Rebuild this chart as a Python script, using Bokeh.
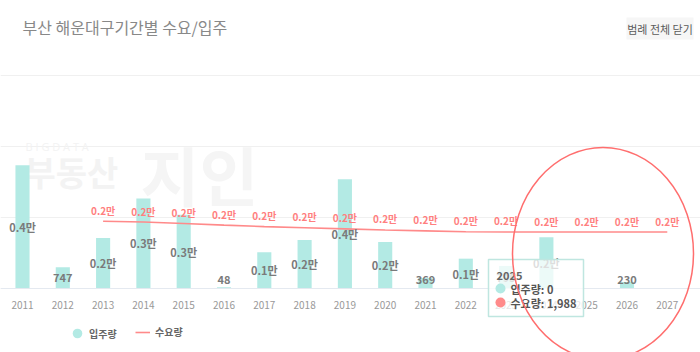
from bokeh.plotting import figure
from bokeh.models import Range1d, FixedTicker, Legend, LegendItem
from bokeh.core.properties import value
from bokeh.embed import file_html
from bokeh.resources import INLINE

# ---------------- data ----------------
years = list(range(2011, 2028))
supply = [4340, 747, 1780, 3170, 2600, 48, 1280, 1710, 3850, 1640, 369, 1050, 795, 1800, 0, 230, 0]
demand_years = list(range(2013, 2028))
demand = [2370, 2340, 2290, 2230, 2180, 2140, 2100, 2060, 2030, 2000, 1990, 1988, 1988, 1988, 1988]
grid_vals = [0, 2500, 5000, 7500]
title_text = "부산 해운대구기간별 수요/입주"
button_text = "범례 전체 닫기"
series_names = ["입주량", "수요량"]
hover_year = 2025

FONT = "Noto Sans CJK KR"
TEAL = "#b3eae4"
RED = "#ff8a8a"

W, H = 700, 352
X0, X1 = 2010.454, 2027.824
Y0, Y1 = -2254, 10141


def dx(px):
    return X0 + px * (X1 - X0) / W


def dy(py):
    return Y1 - py * (Y1 - Y0) / H


def fmt(v):
    return f"{v / 10000:.1f}만" if v >= 1000 else f"{v}"


p = figure(width=W, height=H, output_backend="svg", toolbar_location=None,
           x_range=Range1d(X0, X1), y_range=Range1d(Y0, Y1), min_border=0)
if p.title is not None:
    p.title.visible = False
p.outline_line_color = None
p.background_fill_color = "white"
p.border_fill_color = "white"
p.yaxis.visible = False
p.xgrid.visible = False
p.ygrid.ticker = FixedTicker(ticks=grid_vals)
p.ygrid.grid_line_color = "#f0f0f0"

xa = p.xaxis[0]
xa.fixed_location = 0
xa.ticker = FixedTicker(ticks=years)
xa.major_label_overrides = {y: str(y) for y in years}
xa.axis_line_color = "#e4e9f0"
xa.major_tick_line_color = None
xa.minor_tick_line_color = None
xa.major_label_standoff = 7
xa.major_label_text_font = FONT
xa.major_label_text_font_size = "10px"
xa.major_label_text_color = "#999999"

# watermark
p.text(x=[dx(25)], y=[dy(146)], text=["B  I  G  D  A  T  A"], text_font=value("Open Sans"),
       text_font_size="11px", text_color="#f3f3f3", text_baseline="middle")
p.text(x=[dx(24)], y=[dy(171)], text=["부동산"], text_font=value(FONT), text_font_size="34px",
       text_font_style="bold", text_color="#f3f3f3", text_baseline="middle")
p.text(x=[dx(140)], y=[dy(172)], text=["지인"], text_font=value(FONT), text_font_size="64px",
       text_font_style="bold", text_color="#f5f5f5", text_baseline="middle")

# title & button
p.text(x=[dx(22)], y=[dy(26)], text=[title_text], text_font=value(FONT), text_font_size="16px",
       text_color="#888888", text_baseline="middle")
p.quad(left=[dx(626)], right=[dx(693)], top=[dy(17)], bottom=[dy(39)], fill_color="#f6f6f6",
       line_color=None)
p.text(x=[dx(659.5)], y=[dy(28.5)], text=[button_text], text_font=value(FONT), text_font_size="11px",
       text_color="#5a5a5a", text_baseline="middle", text_align="center")

# bars
bars = p.vbar(x=years, top=supply, width=0.35, fill_color=TEAL, line_color=None)

# demand line
line = p.line(x=demand_years, y=demand, line_color=RED, line_width=1.6)

# bar labels
bx = [y for y, v in zip(years, supply) if v > 0]
by = [max(v / 2, 300) for v in supply if v > 0]
bt = [fmt(v) for v in supply if v > 0]
p.text(x=bx, y=by, text=bt, text_font=value(FONT), text_font_size="11px", text_font_style="bold",
       text_color="#7a7a7a", text_align="center", text_baseline="middle")

# demand labels
p.text(x=demand_years, y=demand, text=[fmt(v) for v in demand], y_offset=-11, text_font=value(FONT),
       text_font_size="10px", text_font_style="bold", text_color="#ff7f7f", text_align="center",
       text_baseline="middle")

# legend
leg_dot = p.scatter(x=[hover_year], y=[float("nan")], size=10, fill_color=TEAL, line_color=None)
legend1 = Legend(items=[LegendItem(label=series_names[0], renderers=[leg_dot])],
                 orientation="horizontal", location=(65, 7), label_text_font=FONT,
                 label_text_font_size="10px", label_text_font_style="bold", label_text_color="#666666",
                 glyph_width=24, glyph_height=24, label_height=24, label_standoff=0,
                 padding=0, margin=0, border_line_color=None, background_fill_alpha=0)
legend2 = Legend(items=[LegendItem(label=series_names[1], renderers=[line])],
                 orientation="horizontal", location=(135, 13), label_text_font=FONT,
                 label_text_font_size="10px", label_text_font_style="bold", label_text_color="#666666",
                 glyph_width=15, glyph_height=12, label_height=12, label_standoff=5,
                 padding=0, margin=0, border_line_color=None, background_fill_alpha=0)
p.add_layout(legend1)
p.add_layout(legend2)

# tooltip (hovered state in the picture)
i = years.index(hover_year)
d_val = demand[demand_years.index(hover_year)]
p.quad(left=[dx(488)], right=[dx(583)], top=[dy(259)], bottom=[dy(316)], fill_color="white",
       fill_alpha=0.75, line_color="#bfe6e0", line_width=1.5, level="overlay")
p.text(x=[dx(496)], y=[dy(275)], text=[str(hover_year)], text_font=value(FONT), text_font_size="11px",
       text_font_style="bold", text_color="#666666", text_baseline="middle", level="overlay")
p.scatter(x=[dx(500)], y=[dy(288)], size=10, fill_color=TEAL, line_color=None, level="overlay")
p.scatter(x=[dx(500)], y=[dy(302)], size=10, fill_color=RED, line_color=None, level="overlay")
p.text(x=[dx(510), dx(510)], y=[dy(288), dy(302)],
       text=[f"{series_names[0]}: {supply[i]:,}", f"{series_names[1]}: {d_val:,}"],
       text_font=value(FONT), text_font_size="11px", text_font_style="bold", text_color="#555555",
       text_baseline="middle", level="overlay")

# hand-drawn red circle annotation
p.ellipse(x=[dx(602.5)], y=[dy(253)], width=181, height=212, width_units="screen",
          height_units="screen", fill_color=None, line_color="#ff6e6e", line_width=1.5, level="overlay")

open("out.html", "w").write(file_html(p, INLINE))
